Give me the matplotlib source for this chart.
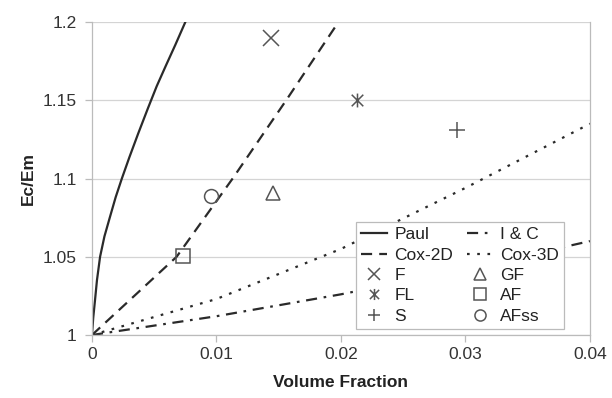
import matplotlib
matplotlib.use("Agg")
import matplotlib.pyplot as plt
from matplotlib.path import Path

plt.rcParams['font.family'] = ['Liberation Sans', 'DejaVu Sans']

# model curves
paul_x = [0, 0.0001, 0.00024, 0.0004, 0.00065, 0.001, 0.00145, 0.0019, 0.0024, 0.003,
          0.0037, 0.0045, 0.0052, 0.0059, 0.0067, 0.0075]
paul_y = [1, 1.011, 1.022, 1.035, 1.05, 1.063, 1.0756, 1.088, 1.1, 1.1135,
          1.1285, 1.145, 1.159, 1.1715, 1.1855, 1.2]
cox2d_x = [0, 0.0068, 0.0113, 0.0156, 0.0198]
cox2d_y = [1, 1.05, 1.1, 1.15, 1.2]
cox3d_x = [0, 0.01, 0.02, 0.03, 0.04]
cox3d_y = [1, 1.023, 1.055, 1.094, 1.135]
ic_x = [0, 0.01, 0.02, 0.03, 0.04]
ic_y = [1, 1.012, 1.026, 1.042, 1.06]

# measured points
pt_names = ['F', 'FL', 'S', 'GF', 'AF', 'AFss']
pt_x = [0.0144, 0.0213, 0.0293, 0.0145, 0.0073, 0.0096]
pt_y = [1.19, 1.15, 1.131, 1.0905, 1.0505, 1.089]

x_ticks = [0, 0.01, 0.02, 0.03, 0.04]
x_ticklabels = ['0', '0.01', '0.02', '0.03', '0.04']
y_ticks = [1, 1.05, 1.1, 1.15, 1.2]
y_ticklabels = ['1', '1.05', '1.1', '1.15', '1.2']

# x with a vertical bar through it
star_marker = Path([(-1, -1), (1, 1), (-1, 1), (1, -1), (0, -1.2), (0, 1.2)],
                   [Path.MOVETO, Path.LINETO, Path.MOVETO, Path.LINETO, Path.MOVETO, Path.LINETO])
markers = ['x', star_marker, '+', '^', 's', 'o']
msizes = [11, 10, 11, 10, 10, 10]

fig = plt.figure(figsize=(6.12, 3.98), dpi=100)
ax = fig.add_axes([0.1503, 0.1583, 0.8137, 0.7864])

line_c = '#2a2a2a'
mark_c = '#555555'
ax.plot(paul_x, paul_y, color=line_c, lw=1.6, label='Paul')
ax.plot(cox2d_x, cox2d_y, color=line_c, lw=1.6, dashes=(5, 3.2), label='Cox-2D')
ax.plot(ic_x, ic_y, color=line_c, lw=1.6, dashes=(5, 3, 1.2, 3), label='I & C')
ax.plot(cox3d_x, cox3d_y, color=line_c, lw=1.6, dashes=(1.2, 3.4), label='Cox-3D')

for name, x, y, m, s in zip(pt_names, pt_x, pt_y, markers, msizes):
    ax.plot([x], [y], linestyle='none', marker=m, ms=s, mfc='none', mec=mark_c, mew=1.1,
            label=name, clip_on=False)

handles, labels = ax.get_legend_handles_labels()
order = ['Paul', 'Cox-2D', 'F', 'FL', 'S', 'I & C', 'Cox-3D', 'GF', 'AF', 'AFss']
hmap = dict(zip(labels, handles))
leg = ax.legend([hmap[k] for k in order], order, ncol=2, loc='lower right',
                bbox_to_anchor=(0.948, 0.019), borderaxespad=0, fontsize=12.5,
                frameon=True, fancybox=False, edgecolor='#bbbbbb', framealpha=1,
                borderpad=0.3, labelspacing=0.3, handlelength=1.5, handletextpad=0.4,
                columnspacing=0.8, markerscale=0.8)
leg.get_frame().set_linewidth(0.9)
for t in leg.get_texts():
    t.set_color('#222222')

ax.set_xlim(0, 0.04)
ax.set_ylim(1, 1.2)
ax.set_xticks(x_ticks)
ax.set_xticklabels(x_ticklabels)
ax.set_yticks(y_ticks)
ax.set_yticklabels(y_ticklabels)
ax.tick_params(axis='both', colors='#bbbbbb', labelcolor='#333333', labelsize=12.5,
               length=5, width=0.9, direction='out')
ax.tick_params(axis='x', pad=4)
ax.tick_params(axis='y', pad=6)
ax.grid(axis='y', color='#d4d4d4', lw=0.9)
for side in ['left', 'bottom', 'right']:
    ax.spines[side].set_color('#bbbbbb')
    ax.spines[side].set_linewidth(0.9)
ax.spines['top'].set_visible(False)

ax.set_xlabel('Volume Fraction', fontsize=12.5, fontweight='bold', color='#222222', labelpad=9)
ax.set_ylabel('Ec/Em', fontsize=12.5, fontweight='bold', color='#222222', labelpad=5)

fig.savefig('out.png', dpi=100)
